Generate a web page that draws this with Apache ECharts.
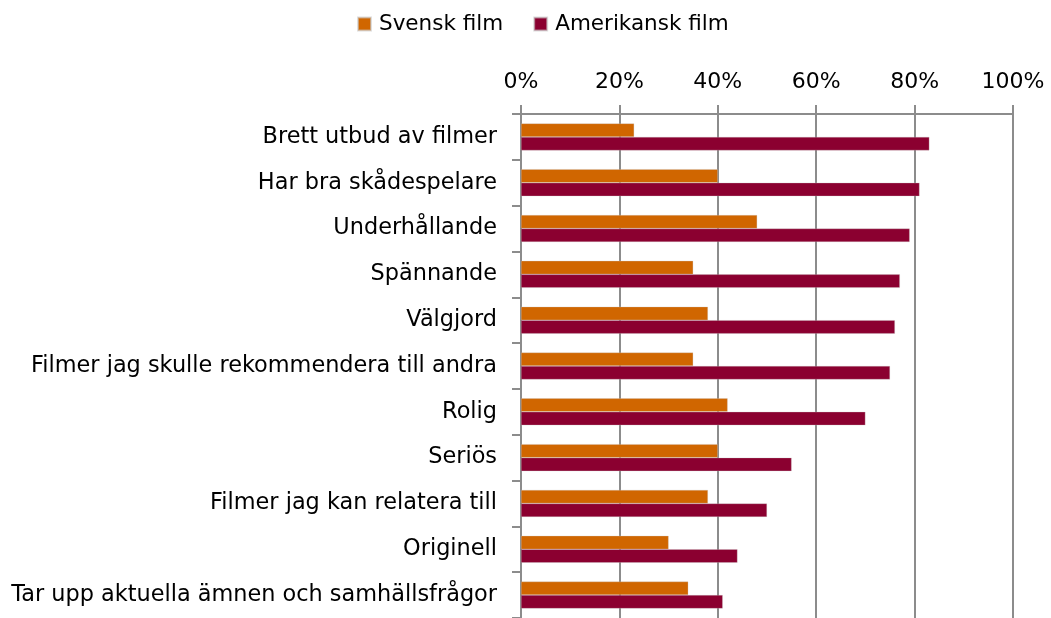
<!DOCTYPE html>
<html>
<head>
<meta charset="utf-8">
<script src="https://cdn.jsdelivr.net/npm/echarts@6/dist/echarts.min.js"></script>
<style>
  html, body { margin: 0; padding: 0; background: #fff; }
  #chart { width: 1051px; height: 618px; }
</style>
</head>
<body>
<div id="chart"></div>
<script>
// kategorier, uppifrån och ned
var categories = [
  'Brett utbud av filmer',
  'Har bra skådespelare',
  'Underhållande',
  'Spännande',
  'Välgjord',
  'Filmer jag skulle rekommendera till andra',
  'Rolig',
  'Seriös',
  'Filmer jag kan relatera till',
  'Originell',
  'Tar upp aktuella ämnen och samhällsfrågor'
];
var svenskFilm = [23, 40, 48, 35, 38, 35, 42, 40, 38, 30, 34];
var amerikanskFilm = [83, 81, 79, 77, 76, 75, 70, 55, 50, 44, 41];
var seriesNames = ['Svensk film', 'Amerikansk film'];

var font = 'DejaVu Sans';
var gridColor = '#8c8c8c';

var myChart = echarts.init(document.getElementById('chart'));
myChart.setOption({
  animation: false,
  color: ['#D06600', '#8B0030'],
  textStyle: { fontFamily: font },
  legend: {
    data: seriesNames,
    top: 8,
    left: 352,
    icon: 'rect',
    itemWidth: 13,
    itemHeight: 13,
    itemGap: 30,
    textStyle: { fontSize: 21.5, color: '#000', fontFamily: font, padding: [0, 0, 0, 3] }
  },
  grid: {
    left: 521,
    right: 38,
    top: 114,
    height: 508
  },
  xAxis: {
    type: 'value',
    position: 'top',
    min: 0,
    max: 100,
    interval: 20,
    axisLine: { show: true, lineStyle: { color: gridColor, width: 2 } },
    axisTick: { show: true, length: 9, lineStyle: { color: gridColor, width: 2 } },
    axisLabel: { formatter: '{value}%', fontSize: 22, color: '#000', margin: 21, fontFamily: font },
    splitLine: { show: true, lineStyle: { color: gridColor, width: 2 } }
  },
  yAxis: {
    type: 'category',
    data: categories,
    inverse: true,
    axisLine: { show: true, lineStyle: { color: gridColor, width: 2 } },
    axisTick: { show: true, length: 9, lineStyle: { color: gridColor, width: 2 } },
    axisLabel: { fontSize: 22.4, color: '#000', margin: 24, fontFamily: font }
  },
  series: [
    {
      name: seriesNames[0],
      type: 'bar',
      data: svenskFilm,
      barWidth: 13.5,
      barGap: '0%',
      itemStyle: { borderColor: 'rgba(200,200,200,0.6)', borderWidth: 0.5 }
    },
    {
      name: seriesNames[1],
      type: 'bar',
      data: amerikanskFilm,
      barWidth: 13.5,
      barGap: '0%',
      itemStyle: { borderColor: 'rgba(200,200,200,0.6)', borderWidth: 0.5 }
    }
  ]
});
</script>
</body>
</html>
